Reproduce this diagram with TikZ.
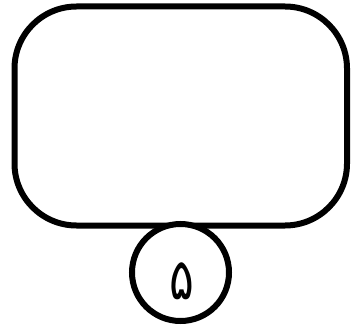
\documentclass[tikz,border=0pt]{standalone}
\usepackage{fontspec}
\usepackage{graphicx}
\newfontfamily\arabicfont[Script=Arabic]{DejaVu Sans}
\TeXXeTstate=1
\begin{document}
\begin{tikzpicture}[x=1pt,y=-1pt,
  outline/.style={draw=black, line width=6pt, inner sep=0pt},
  panel/.style={outline, rectangle, rounded corners=62pt, minimum width=332.5pt, minimum height=219pt},
  badge/.style={outline, circle, fill=white, minimum size=97pt},
  digit/.style={inner sep=0pt, font=\arabicfont\fontsize{44}{50}\selectfont}]
\useasboundingbox (0,0) rectangle (352,331);
\node[panel] (box) at (180.75,116) {};
\node[badge] (num) at (180.5,272.5) {};
\node[digit] (numtext) at (181.5,281) {\scalebox{1.05}[1.3]{\beginR ۵\endR}};
\end{tikzpicture}
\end{document}
